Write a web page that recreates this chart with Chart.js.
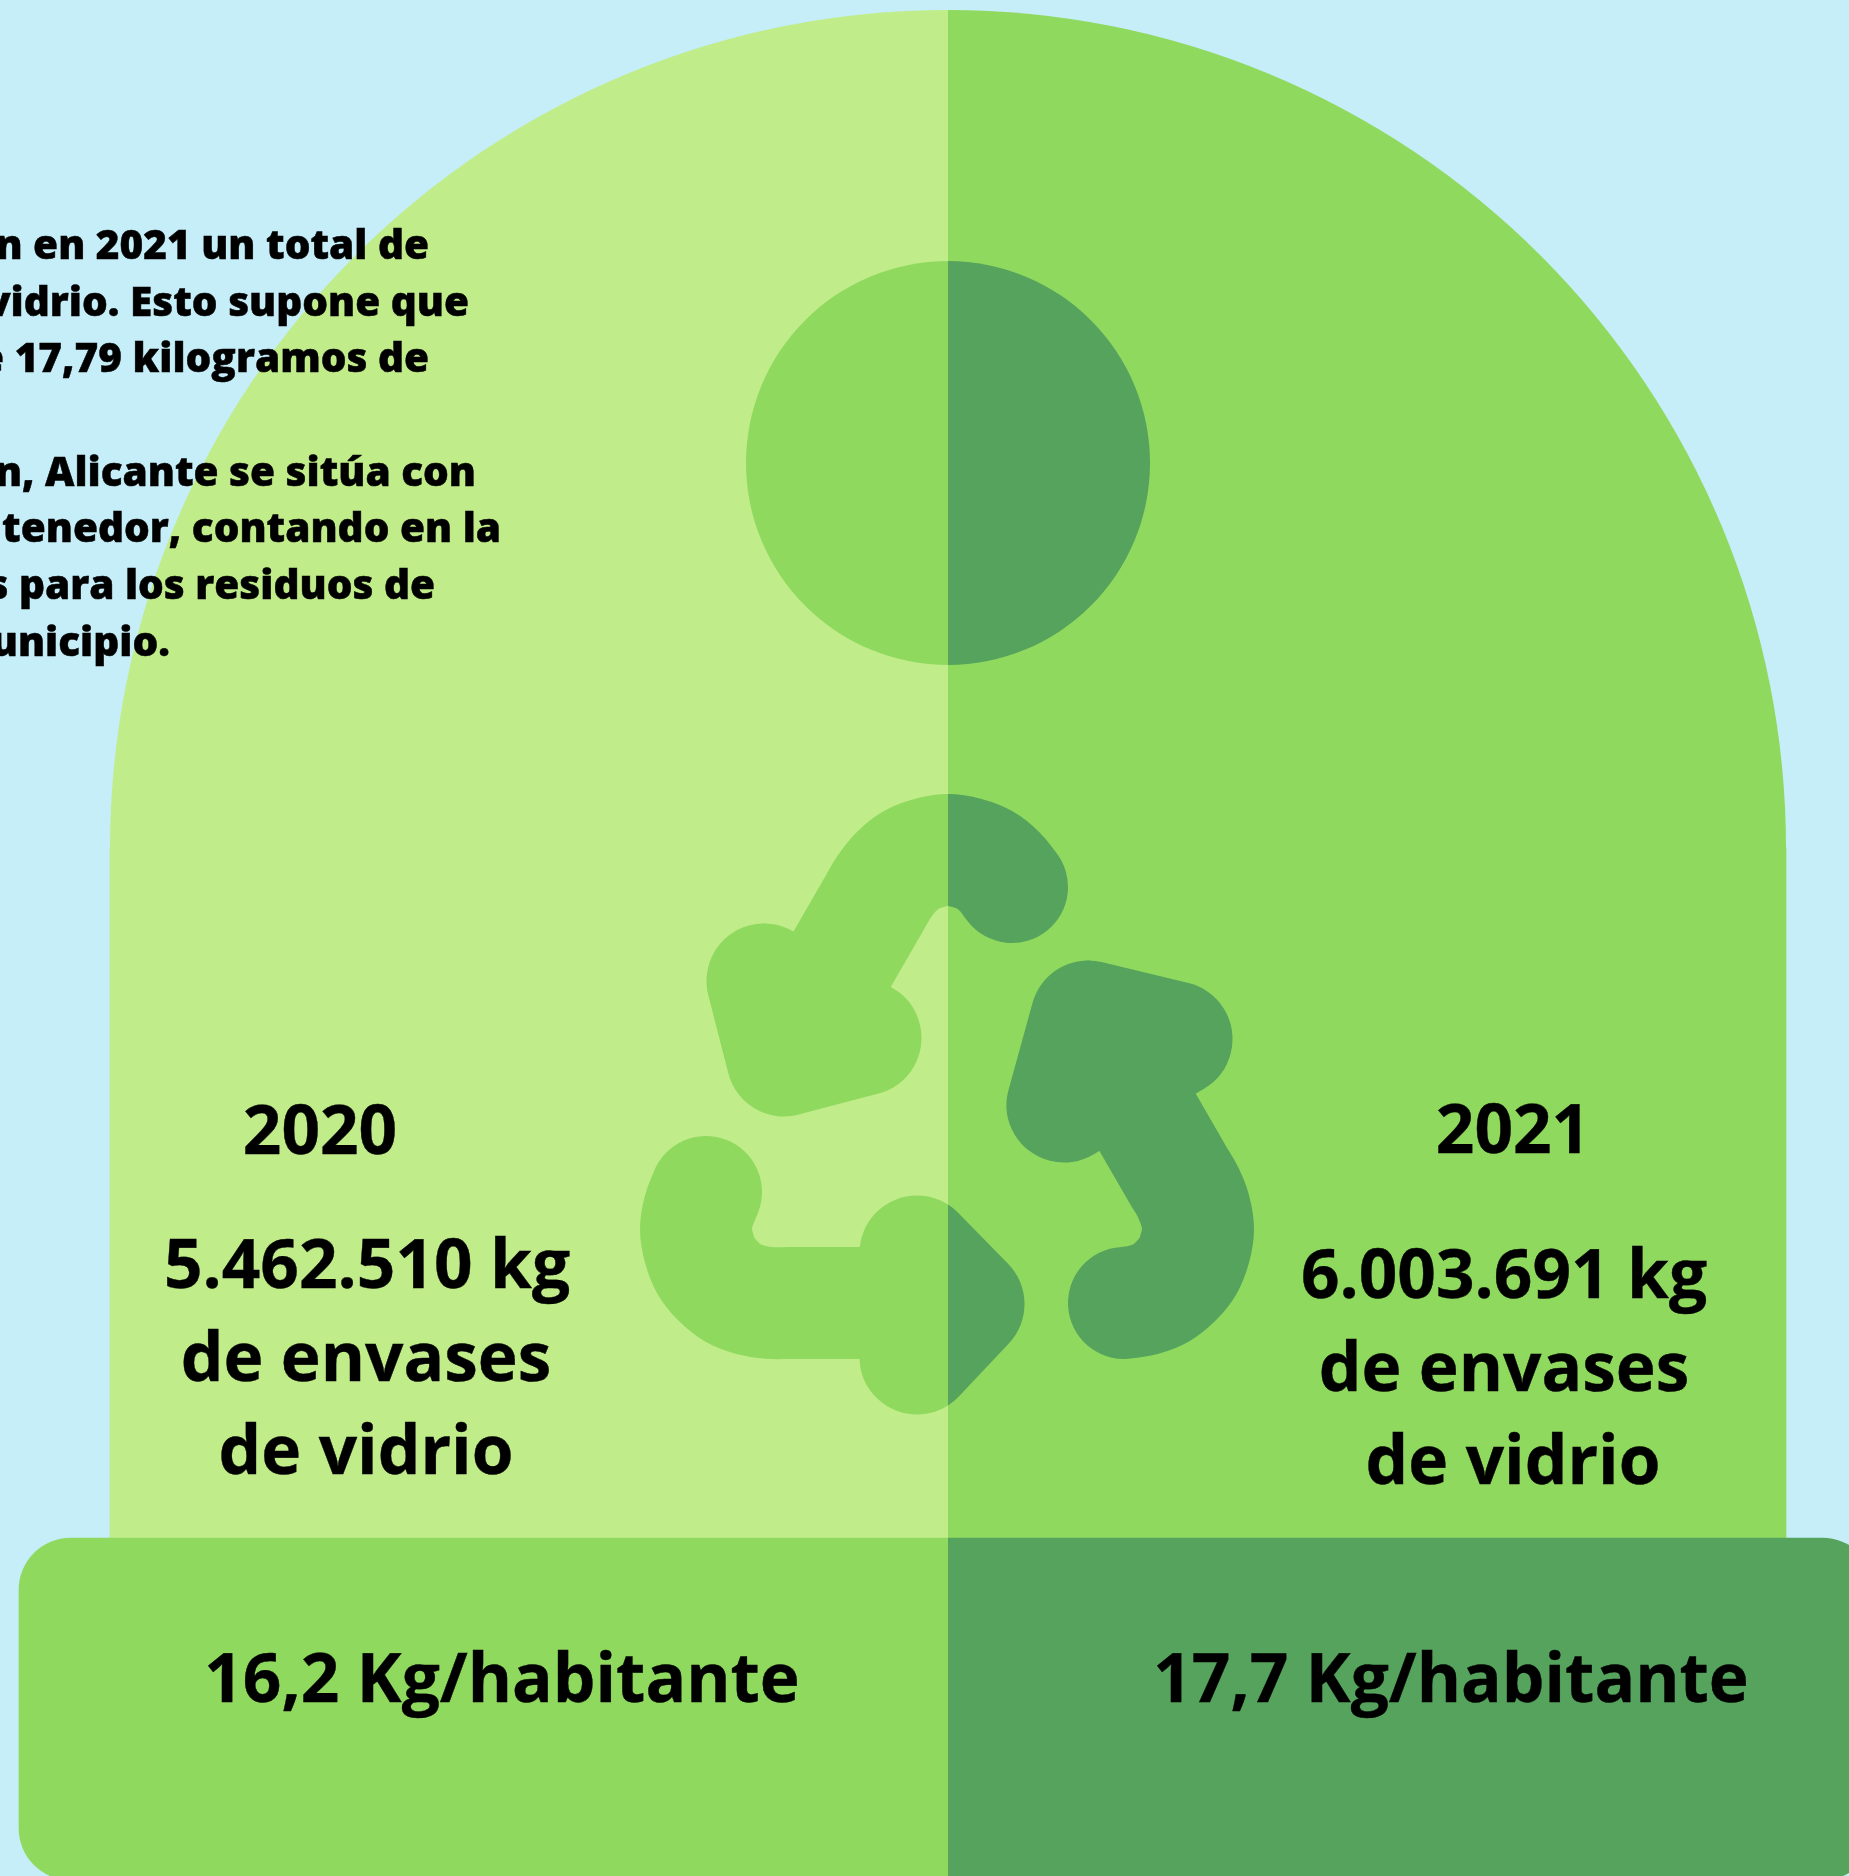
<!DOCTYPE html>
<html lang="es">
<head>
<meta charset="utf-8">
<title>Envases de vidrio</title>
<script src="https://cdn.jsdelivr.net/npm/chart.js@4/dist/chart.umd.min.js"></script>
<style>
html, body { margin: 0; padding: 0; }
body { position: relative; width: 1849px; height: 1876px; overflow: hidden; background: #C5EEF8; font-family: "Open Sans", sans-serif; color: #000; }
canvas { position: absolute; top: 0; display: block; }
.txt { position: absolute; line-height: 1; white-space: nowrap; font-weight: 700; -webkit-text-stroke: 0.4px #000; }
.intro { font-weight: 800; -webkit-text-stroke: 0.5px #000; }
</style>
</head>
<body>
<canvas id="half2020" width="948" height="1876" style="left:0"></canvas>
<canvas id="half2021" width="901" height="1876" style="left:948px"></canvas>
<script>
// datos
var years = ['2020', '2021'];
var glassKg = [5462510, 6003691];
var kgPerPerson = [16.2, 17.7];
var unitLines = ['de envases', 'de vidrio'];
var introLines = ['n en 2021 un total de', 'vidrio. Esto supone que', 'e 17,79 kilogramos de', 'n, Alicante se sitúa con', 'ntenedor, contando en la', 's para los residuos de', 'unicipio.'];

// colores por mitad: cúpula, banda / icono
var domeColors = ['#C1EC8A', '#90D95F'];
var darkColors = ['#90D95F', '#55A35C'];

// geometria del dibujo (px del original)
var pageW = 1849, pageH = 1876, midX = 948;
var domeCenterY = 848, domeR = 838, bandTop = 1538, bandBottom = 1880;
var headY = 463, headR = 202;
var shaftW = 112, tipW = 115;

var shafts = [
	[[1012, 887], [1000, 872], [985, 860], [967, 853], [948, 850], [929, 853], [911, 860], [896, 872], [884, 887], [874, 904], [814, 1008]],
	[[1133, 1097], [1178, 1175], [1188, 1192], [1195, 1210], [1198, 1229], [1195, 1248], [1188, 1266], [1176, 1281], [1161, 1293], [1143, 1300], [1124, 1303]],
	[[706, 1192], [699, 1210], [696, 1229], [699, 1248], [706, 1266], [718, 1281], [733, 1293], [751, 1300], [770, 1303], [790, 1303], [910, 1303]]
];
var tips = [
	[[764, 981], [784, 1059], [864, 1038], [764, 981]],
	[[1088, 1018], [1175, 1039], [1064, 1105], [1088, 1018]],
	[[917, 1253], [967, 1304], [917, 1357], [917, 1253]]
];

function toPoints(list) {
	return list.map(function(p) { return { x: p[0], y: p[1] }; });
}

function strokeSet(list, color, width, order, tension) {
	return {
		type: 'line',
		data: toPoints(list),
		borderColor: color,
		borderWidth: width,
		borderCapStyle: 'round',
		borderJoinStyle: 'round',
		tension: tension,
		capBezierPoints: false,
		pointRadius: 0,
		fill: false,
		clip: false,
		order: order
	};
}

function circleSet(x, y, r, color, order) {
	return {
		type: 'line',
		data: [{ x: x, y: y }],
		showLine: false,
		pointRadius: r,
		pointHoverRadius: r,
		pointBackgroundColor: color,
		pointBorderWidth: 0,
		clip: false,
		order: order
	};
}

function barSet(x0, x1, y0, y1, color, radius, order) {
	return {
		type: 'bar',
		data: [{ x: (x0 + x1) / 2, y: [y0, y1] }],
		barThickness: x1 - x0,
		grouped: false,
		backgroundColor: color,
		borderSkipped: false,
		borderWidth: 0,
		borderRadius: radius,
		clip: false,
		order: order
	};
}

function makeHalf(id, i) {
	var isLeft = i == 0;
	var sets = [
		circleSet(midX, domeCenterY, domeR, domeColors[i], 9),
		isLeft ? barSet(110, midX, domeCenterY, bandTop, domeColors[i], 0, 8)
		       : barSet(midX, 1786, domeCenterY, bandTop, domeColors[i], 0, 8),
		isLeft ? barSet(19, midX, bandTop, bandBottom, darkColors[i], { topLeft: 52, bottomLeft: 52, topRight: 0, bottomRight: 0 }, 7)
		       : barSet(midX, 1874, bandTop, bandBottom, darkColors[i], { topLeft: 0, bottomLeft: 0, topRight: 52, bottomRight: 52 }, 7),
		circleSet(midX, headY, headR, darkColors[i], 6)
	];
	shafts.forEach(function(s) { sets.push(strokeSet(s, darkColors[i], shaftW, 5, 0.4)); });
	tips.forEach(function(t) { sets.push(strokeSet(t, darkColors[i], tipW, 4, 0)); });

	return new Chart(document.getElementById(id), {
		type: 'bar',
		data: { datasets: sets },
		options: {
			responsive: false,
			animation: false,
			events: [],
			layout: { padding: 0, autoPadding: false },
			plugins: { legend: { display: false }, tooltip: { enabled: false }, title: { display: false } },
			scales: {
				x: { type: 'linear', display: false, offset: false, min: isLeft ? 0 : midX, max: isLeft ? midX : pageW },
				y: { type: 'linear', display: false, reverse: true, min: 0, max: pageH }
			}
		}
	});
}

makeHalf('half2020', 0);
makeHalf('half2021', 1);

/* textos */
function put(text, size, baseline, anchor, x, cls) {
	var el = document.createElement('div');
	el.className = 'txt' + (cls ? ' ' + cls : '');
	el.textContent = text;
	el.style.fontSize = size + 'px';
	el.style.top = (baseline - 0.888 * size) + 'px';
	if (anchor == 'center') {
		el.style.left = x + 'px';
		el.style.transform = 'translateX(-50%)';
	} else {
		el.style.right = (pageW - x) + 'px';
	}
	document.body.appendChild(el);
}

function kgText(v) {
	return String(v).replace(/\B(?=(\d{3})+$)/g, '.') + ' kg';
}

function perPersonText(v) {
	return String(v).replace('.', ',') + ' Kg/habitante';
}

var introEnds = [429, 469, 429, 476, 501, 435, 170];
var introBase = [260, 317, 373, 487, 543, 600, 657];
introLines.forEach(function(line, i) {
	put(line, 40.5, introBase[i], 'right', introEnds[i], 'intro');
});

put(years[0], 67.5, 1155, 'center', 320);
put(years[1], 67.5, 1154, 'center', 1513);

put(kgText(glassKg[0]), 67.5, 1289, 'center', 367);
put(unitLines[0], 67.5, 1382, 'center', 366);
put(unitLines[1], 67.5, 1475, 'center', 366);

put(kgText(glassKg[1]), 67.5, 1299, 'center', 1504);
put(unitLines[0], 67.5, 1392, 'center', 1504);
put(unitLines[1], 67.5, 1485, 'center', 1513);

put(perPersonText(kgPerPerson[0]), 67.5, 1703, 'center', 502);
put(perPersonText(kgPerPerson[1]), 67.5, 1703, 'center', 1451);
</script>
</body>
</html>
